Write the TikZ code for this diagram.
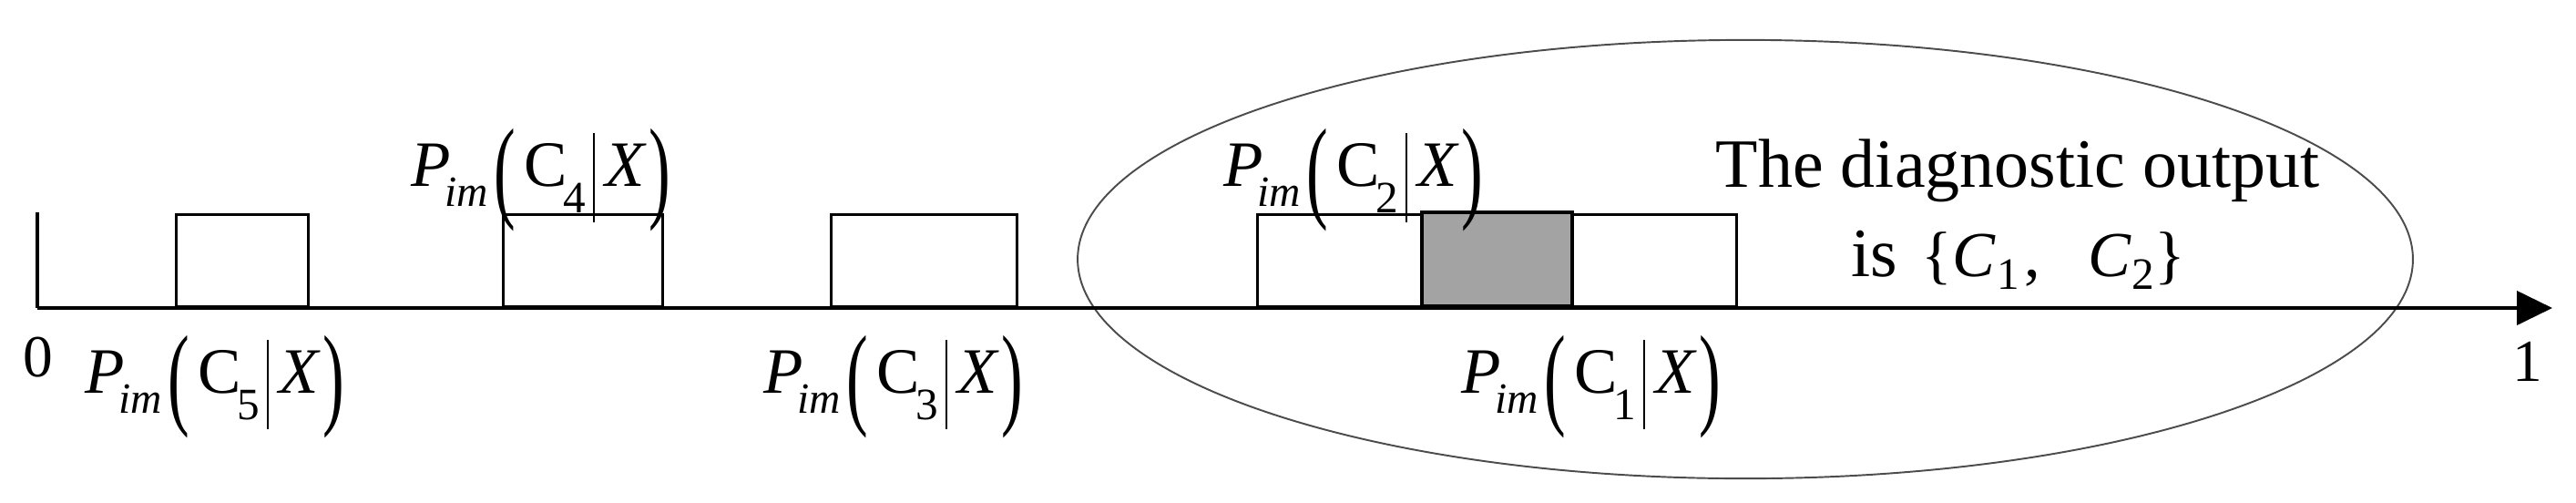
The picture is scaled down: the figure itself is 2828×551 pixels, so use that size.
\documentclass[tikz,border=0pt]{standalone}
\usepackage{fontspec}
\usepackage{graphicx}
\setmainfont{Liberation Serif}
\usetikzlibrary{arrows.meta,shapes.geometric}
\newcommand{\subim}{\fontsize{13.5pt}{13.5pt}\selectfont}
\newcommand{\subdg}{\fontsize{14pt}{14pt}\selectfont}
\newcommand{\bigpar}[1]{\raisebox{-0.33em}{\scalebox{1}[1.75]{#1}}}
\newcommand{\Pim}[1]{%
 \textit{P}\kern-0.1em\raisebox{-0.32em}{\subim\textit{im}}%
 \kern0.1em\bigpar{(}\kern0.13em%
 C\kern-0.07em\raisebox{-0.42em}{\subdg #1}%
 \kern0.12em\vrule width 0.6pt height 0.82em depth 0.56em\kern0.16em%
 \textit{X}\kern0.03em\bigpar{)}}
\begin{document}
\begin{tikzpicture}[x=0.01cm,y=-0.01cm,
  bx/.style={draw=black,line width=0.85pt,fill=white,inner sep=0pt,anchor=south west,minimum height=1.01cm},
  ov/.style={draw=black,line width=1pt,fill=black!36,inner sep=0pt,anchor=south west,minimum height=1.03cm},
  lab/.style={font=\fontsize{20.2pt}{24pt}\selectfont,inner sep=0pt,anchor=base},
  txt/.style={font=\fontsize{21.6pt}{26pt}\selectfont,inner sep=0pt,anchor=base},
  num/.style={font=\fontsize{18.6pt}{20pt}\selectfont,inner sep=0pt},
  axis/.style={line width=1.2pt,-{Triangle[length=0.39cm,width=0.37cm]}}]
\useasboundingbox (0,0) rectangle (2828,551);
% ellipse
\node[draw=black!70,line width=0.55pt,ellipse,minimum width=14.65cm,minimum height=4.81cm,inner sep=0pt] (ell) at (1916,284.5) {};
% boxes
\node[bx,minimum width=1.45cm] (b5) at (192,338) {};
\node[bx,minimum width=1.75cm] (b4) at (551,338) {};
\node[bx,minimum width=2.04cm] (b3) at (911,338) {};
\node[bx,minimum width=3.45cm] (b2) at (1379,338) {};
\node[bx,minimum width=3.46cm] (b1) at (1559,338) {};
\node[ov,minimum width=1.65cm] (b12) at (1559,338) {};
% axis
\coordinate (o) at (41,338);
\coordinate (top) at (41,233);
\coordinate (e) at (2802,338);
\draw[line width=0.95pt] (top) -- (o);
\draw[axis] (o) -- (e);
% numbers
\node[num] (zero) at (42,392) {0};
\node[num] (one) at (2775,397) {1};
% labels
\node[lab] (l5) at (236,431) {\Pim{5}};
\node[lab] (l4) at (594,204) {\Pim{4}};
\node[lab] (l3) at (981,431) {\Pim{3}};
\node[lab] (l2) at (1486,204) {\Pim{2}};
\node[lab] (l1) at (1747,431) {\Pim{1}};
% text
\node[txt] (t1) at (2215,205) {The diagnostic output};
\node[txt,anchor=base west] (t2) at (2032,303) {is\hspace{2.6mm}{\fontsize{20pt}{22pt}\selectfont\{\textit{C}\kern0.02em\raisebox{-0.2em}{\subdg 1}\kern0.08em,\hspace{5.2mm}\textit{C}\kern0.02em\raisebox{-0.2em}{\subdg 2}\}}};
\end{tikzpicture}
\end{document}
